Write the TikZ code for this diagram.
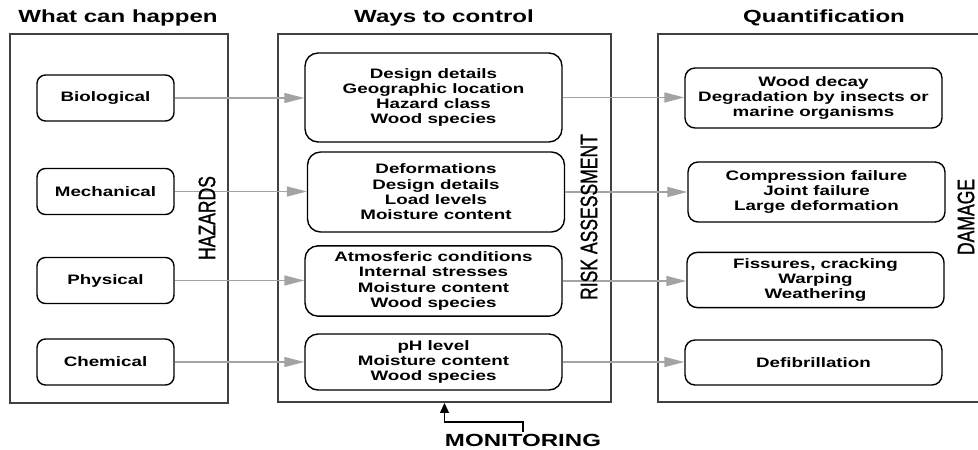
\documentclass[tikz,border=0pt]{standalone}
\usepackage{fontspec}
\setmainfont{Liberation Sans}[FakeStretch=1.37]
\newfontfamily\rotfont{Liberation Sans}[FakeStretch=0.74, FakeBold=1]
\usetikzlibrary{arrows.meta, positioning}
\definecolor{framegray}{HTML}{404040}
\definecolor{arrgray}{HTML}{A3A3A3}
\tikzset{
    frame/.style={rectangle, draw=framegray, line width=1.1pt},
    hazard/.style={rectangle, draw, rounded corners=0.17cm, line width=0.8pt, minimum width=2.74cm, minimum height=0.92cm, align=center, font=\fontsize{7.8}{8.7}\selectfont\bfseries},
    ctl/.style={hazard, rounded corners=0.26cm, minimum width=5.14cm},
    dmg/.style={hazard, rounded corners=0.2cm, minimum width=5.14cm},
    title/.style={font=\fontsize{10}{12}\selectfont\bfseries},
    side/.style={rotate=90, inner sep=0pt, font=\rotfont\fontsize{13.5}{15}\selectfont},
    arr/.style={-{Triangle[length=0.4cm, width=0.2cm]}, arrgray, line width=0.8pt},
    monarr/.style={-{Triangle[length=0.2cm, width=0.18cm]}, line width=0.6pt},
}

\begin{document}
\begin{tikzpicture}[x=0.02cm, y=-0.02cm]

\useasboundingbox (0,0) rectangle (978,450);

% ── Frames and titles ──
\node[frame, minimum width=4.36cm, minimum height=7.38cm] (hazframe) at (119,218.5) {};
\node[frame, minimum width=6.66cm, minimum height=7.36cm] (ctlframe) at (444.5,218) {};
\node[frame, minimum width=6.84cm, minimum height=7.36cm] (dmgframe) at (829,218) {};

\node[title] (t1) at (118,18) {What can happen};
\node[title] (t2) at (444,18) {Ways to control};
\node[title] (t3) at (824,18) {Quantification};

% ── Hazards ──
\node[hazard] (bio) at (105.5,98) {Biological};
\node[hazard] (mech) at (105.5,191.5) {Mechanical};
\node[hazard] (phys) at (105.5,280.5) {Physical};
\node[hazard] (chem) at (105.5,362) {Chemical};

% ── Ways to control ──
\node[ctl, minimum height=1.78cm] (ctlbio) at (433.5,97.5) {Design details\\Geographic location\\Hazard class\\Wood species};
\node[ctl, minimum height=1.6cm] (ctlmech) at (436,192) {Deformations\\Design details\\Load levels\\Moisture content};
\node[ctl, minimum height=1.4cm] (ctlphys) at (433.5,281) {Atmosferic conditions\\Internal stresses\\Moisture content\\Wood species};
\node[ctl, minimum height=1.12cm] (ctlchem) at (433.5,362) {pH level\\Moisture content\\Wood species};

% ── Damage ──
\node[dmg, minimum height=1.2cm] (dmgbio) at (813.5,98) {Wood decay\\Degradation by insects or\\marine organisms};
\node[dmg, minimum height=1.2cm] (dmgmech) at (816.5,192) {Compression failure\\Joint failure\\Large deformation};
\node[dmg, minimum height=1.04cm] (dmgphys) at (815.5,280) {Fissures, cracking\\Warping\\Weathering};
\node[dmg, minimum height=0.9cm] (dmgchem) at (813.5,362.5) {Defibrillation};

% ── Connectors ──
\draw[arr] (bio.east) -- (bio.east -| ctlbio.west);
\draw[arr] (mech.east) -- (mech.east -| ctlmech.west);
\draw[arr] (phys.east) -- (phys.east -| ctlphys.west);
\draw[arr] (chem.east) -- (chem.east -| ctlchem.west);

\draw[arr] (ctlbio.east) -- (ctlbio.east -| dmgbio.west);
\draw[arr] (ctlmech.east) -- (ctlmech.east -| dmgmech.west);
\draw[arr] (ctlphys.east) -- (ctlphys.east -| dmgphys.west);
\draw[arr] (ctlchem.east) -- (ctlchem.east -| dmgchem.west);

% ── Side labels ──
\node[side] (hzlabel) at (207,218) {HAZARDS};
\node[side] (risklabel) at (589,217) {RISK ASSESSMENT};
\node[side] (dmglabel) at (966,217) {DAMAGE};

% ── Monitoring ──
\node[title, inner sep=1pt] (mon) at (523,440) {MONITORING};
\coordinate (monbend) at (523,422);
\draw[monarr] (mon.north) -- (monbend) -| (ctlframe.south);

\end{tikzpicture}
\end{document}
